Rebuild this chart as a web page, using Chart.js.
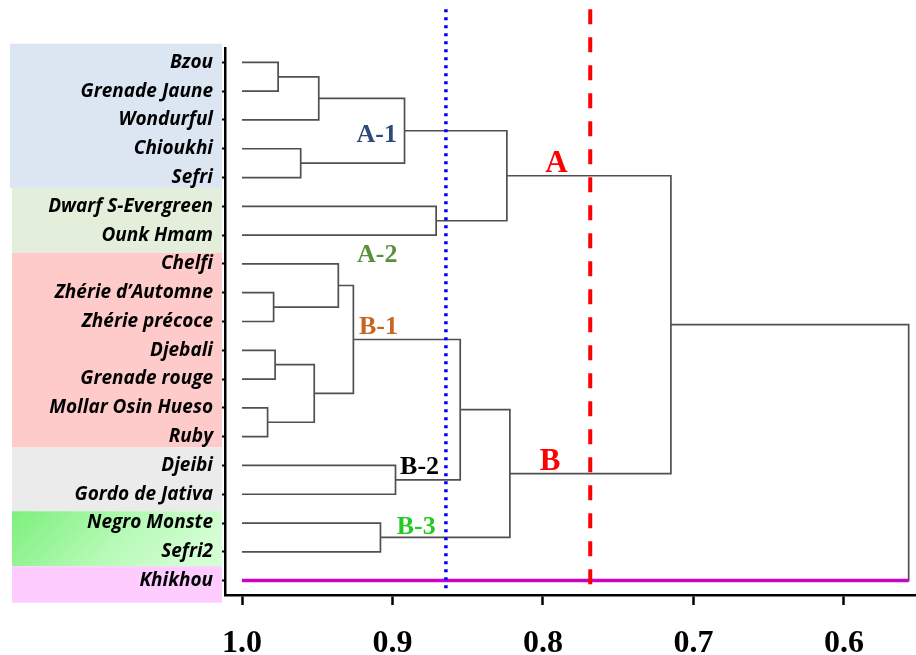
<!DOCTYPE html>
<html>
<head>
<meta charset="utf-8">
<script src="https://cdn.jsdelivr.net/npm/chart.js@4"></script>
<style>
  html, body { margin: 0; padding: 0; background: #fff; }
  #wrap { width: 916px; height: 655px; }
</style>
</head>
<body>
<div id="wrap"><canvas id="myChart"></canvas></div>
<script>
"use strict";

// Leaves, top to bottom
const leafNames = ["Bzou", "Grenade Jaune", "Wondurful", "Chioukhi", "Sefri",
    "Dwarf S-Evergreen", "Ounk Hmam", "Chelfi", "Zhérie d\u2019Automne", "Zhérie précoce",
    "Djebali", "Grenade rouge", "Mollar Osin Hueso", "Ruby", "Djeibi", "Gordo de Jativa",
    "Negro Monste", "Sefri2", "Khikhou"];

// Merges: node 19 + k joins mergeLeft[k] and mergeRight[k] at mergeHeight[k]
const mergeLeft   = [0, 19, 3, 20, 5, 22, 8, 7, 10, 12, 27, 26, 14, 30, 16, 32, 24, 35];
const mergeRight  = [1, 2, 4, 21, 6, 23, 9, 25, 11, 13, 28, 29, 15, 31, 17, 33, 34, 18];
const mergeHeight = [0.976, 0.949, 0.961, 0.892, 0.871, 0.824, 0.979, 0.936, 0.978, 0.983,
    0.952, 0.926, 0.898, 0.855, 0.908, 0.822, 0.715, 0.557];

// Cut-off similarity levels
const cutOffs = [0.8645, 0.7686];

// Axis tick values
const xTicks = [1.0, 0.9, 0.8, 0.7, 0.6];

// Cluster labels
const clusterNames = ["A-1", "A-2", "B-1", "B-2", "B-3", "A", "B"];

const leafHeight = 1.0;

// node positions
let nodeX = leafNames.map(() => leafHeight);
let nodeY = leafNames.map((_, i) => i);
mergeHeight.forEach((h, k) => {
    nodeX.push(h);
    nodeY.push((nodeY[mergeLeft[k]] + nodeY[mergeRight[k]]) / 2);
});

let datasets = [];

mergeHeight.forEach((h, k) => {
    const l = mergeLeft[k], r = mergeRight[k];
    datasets.push({
        data: [
            { x: nodeX[l], y: nodeY[l] },
            { x: h, y: nodeY[l] },
            { x: h, y: nodeY[r] },
            { x: nodeX[r], y: nodeY[r] }
        ],
        showLine: true,
        borderColor: "#505050",
        borderWidth: 1.7,
        pointRadius: 0,
        order: 3
    });
});

// the outlier branch (Khikhou) in magenta
const lastLeaf = leafNames.length - 1;
datasets.push({
    data: [
        { x: leafHeight, y: lastLeaf },
        { x: mergeHeight[mergeHeight.length - 1], y: lastLeaf }
    ],
    showLine: true,
    borderColor: "#cc00cc",
    borderWidth: 3.5,
    pointRadius: 0,
    order: 2
});

// cut-off lines
const cutStyles = [
    { color: "#0000ff", width: 3.5, dash: [3, 5], top: -1.85, bottom: 18.3 },
    { color: "#ff0000", width: 4, dash: [15, 13], top: -1.85, bottom: 18.2 }
];
cutOffs.forEach((c, i) => {
    datasets.push({
        data: [{ x: c, y: cutStyles[i].top }, { x: c, y: cutStyles[i].bottom }],
        showLine: true,
        borderColor: cutStyles[i].color,
        borderWidth: cutStyles[i].width,
        borderDash: cutStyles[i].dash,
        pointRadius: 0,
        clip: false,
        order: 1
    });
});

// label boxes behind leaf names (bounds in leaf units)
const boxBounds = [-0.65, 4.36, 6.61, 13.37, 15.59, 17.5, 18.77];
const boxColors = ["#dce6f2", "#e3eedb", "#ffcaca", "#ebebeb", "gradient", "#ffccff"];

// where cluster labels go (x value, leaf units) and their colours
const clusterPos = [[0.9105, 2.46], [0.9101, 6.63], [0.9093, 9.13], [0.882, 14.0],
    [0.8842, 16.09], [0.791, 3.45], [0.7952, 13.79]];
const clusterColors = ["#2e4a7e", "#5b8f3a", "#c8651f", "#000000", "#22cc22", "#ff0000", "#ff0000"];
const clusterSizes = [26, 26, 26, 26, 26, 31, 31];

const decorPlugin = {
    id: "decor",
    beforeDraw(chart) {
        const c = chart.ctx;
        const ys = chart.scales.y;
        c.save();
        c.fillStyle = "#fff";
        c.fillRect(0, 0, chart.width, chart.height);
        boxBounds.slice(0, -1).forEach((b, i) => {
            const y0 = ys.getPixelForValue(b);
            const y1 = ys.getPixelForValue(boxBounds[i + 1]);
            const x0 = i === 0 ? 10 : 12;
            const x1 = 222;
            if (boxColors[i] === "gradient") {
                const g = c.createLinearGradient(x0, y0, x0 + 120, y1 + 60);
                g.addColorStop(0, "#7cf07c");
                g.addColorStop(0.6, "#b8fab8");
                g.addColorStop(1, "#d4fed4");
                c.fillStyle = g;
            } else {
                c.fillStyle = boxColors[i];
            }
            c.fillRect(x0, y0, x1 - x0, y1 - y0);
        });
        c.restore();
    },
    afterDatasetsDraw(chart) {
        const c = chart.ctx;
        const xs = chart.scales.x, ys = chart.scales.y;
        c.save();
        c.textAlign = "center";
        c.textBaseline = "alphabetic";
        clusterNames.forEach((t, i) => {
            const px = xs.getPixelForValue(clusterPos[i][0]);
            const py = ys.getPixelForValue(clusterPos[i][1]);
            c.font = "bold " + clusterSizes[i] + "px 'Liberation Serif'";
            c.fillStyle = clusterColors[i];
            c.fillText(t, px, py + clusterSizes[i] * 0.33);
        });
        c.restore();
    }
};

const config = {
    type: "scatter",
    data: { datasets: datasets },
    options: {
        responsive: true,
        maintainAspectRatio: false,
        animation: false,
        layout: { padding: { top: 48, left: 0, right: 1, bottom: 0 } },
        plugins: {
            legend: { display: false },
            tooltip: { enabled: false }
        },
        scales: {
            x: {
                type: "linear",
                reverse: true,
                min: 0.5528,
                max: 1.0113,
                afterBuildTicks: (scale) => {
                    scale.ticks = xTicks.map(v => ({ value: v }));
                },
                afterFit: (scale) => { scale.height = 60; },
                ticks: {
                    callback: (v) => Number(v).toFixed(1),
                    color: "#000",
                    padding: 20,
                    font: { family: "'Liberation Serif'", size: 32, weight: "bold" }
                },
                grid: {
                    drawOnChartArea: false,
                    tickLength: 10,
                    tickWidth: 2.5,
                    tickColor: "#000"
                },
                border: { color: "#000", width: 2.5 }
            },
            y: {
                type: "linear",
                reverse: true,
                min: -0.5,
                max: 18.5,
                afterBuildTicks: (scale) => {
                    scale.ticks = leafNames.map((_, i) => ({ value: i }));
                },
                afterFit: (scale) => { scale.width = 225; },
                ticks: {
                    callback: (v) => leafNames[v],
                    color: "#000",
                    padding: 9,
                    font: { family: "'Open Sans'", size: 19, weight: "bold", style: "italic" }
                },
                grid: {
                    drawOnChartArea: false,
                    tickLength: 3,
                    tickWidth: 2,
                    tickColor: "#000"
                },
                border: { color: "#000", width: 2.5 }
            }
        }
    },
    plugins: [decorPlugin]
};

const ctx = document.getElementById("myChart").getContext("2d");
let myChart = new Chart(ctx, config);
</script>
</body>
</html>
